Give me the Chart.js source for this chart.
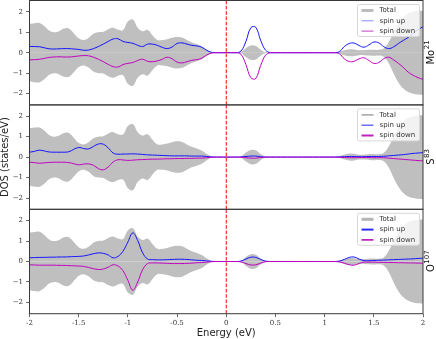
<!DOCTYPE html>
<html><head><meta charset="utf-8">
<script src="https://cdn.jsdelivr.net/npm/chart.js@4.4.0/dist/chart.umd.min.js"></script>
<style>html,body{margin:0;padding:0;background:#fff;}canvas{display:block;}</style>
</head><body>
<canvas id="c" width="436" height="339" style="width:436px;height:339px"></canvas>
<script>
// ---------- data ----------
const energy = [-2,-1.95,-1.9,-1.85,-1.8,-1.75,-1.7,-1.65,-1.6,-1.55,-1.5,-1.45,-1.4,-1.35,-1.3,-1.25,-1.2,-1.15,-1.1,-1.05,-1,-0.95,-0.9,-0.85,-0.8,-0.75,-0.7,-0.65,-0.6,-0.55,-0.5,-0.45,-0.4,-0.35,-0.3,-0.25,-0.2,-0.15,-0.1,-0.05,0,0.05,0.1,0.15,0.2,0.25,0.3,0.35,0.4,0.45,0.5,0.55,0.6,0.65,0.7,0.75,0.8,0.85,0.9,0.95,1,1.05,1.1,1.15,1.2,1.25,1.3,1.35,1.4,1.45,1.5,1.55,1.6,1.65,1.7,1.75,1.8,1.85,1.9,1.95,2];

const totalDOS = [1.40,1.44,1.45,1.30,1.08,1.00,1.05,1.18,1.18,0.95,
  0.70,0.62,0.72,0.92,1.00,1.02,1.15,1.22,1.12,1.10,
  1.52,1.62,1.22,1.05,1.12,0.85,0.62,0.62,0.66,0.73,
  0.77,0.74,0.62,0.50,0.42,0.32,0.16,0.03,0,0,
  0,0,0,0.03,0.22,0.35,0.33,0.15,0.02,0,
  0,0,0,0,0,0,0,0,0,0,
  0,0,0,0.05,0.12,0.17,0.16,0.12,0.12,0.14,
  0.15,0.14,0.20,0.50,1.00,1.45,1.75,1.92,2.00,2.04,2.05];

const moUp = [0.31,0.30,0.29,0.24,0.19,0.18,0.19,0.20,0.20,0.18,
  0.16,0.12,0.13,0.20,0.30,0.42,0.55,0.67,0.68,0.55,
  0.50,0.46,0.36,0.30,0.42,0.42,0.36,0.26,0.20,0.28,
  0.45,0.48,0.42,0.36,0.33,0.27,0.12,0.02,0,0,
  0,0,0,0.08,0.55,1.22,1.24,0.60,0.12,0,
  0,0,0,0,0,0,0,0,0,0,
  0,0,0,0.05,0.30,0.45,0.47,0.35,0.27,0.38,
  0.52,0.48,0.30,0.20,0.28,0.45,0.60,0.75,0.95,1.12,1.27];
const moDown = [-0.35,-0.34,-0.32,-0.28,-0.23,-0.21,-0.20,-0.21,-0.21,-0.19,
  -0.16,-0.14,-0.15,-0.22,-0.32,-0.44,-0.57,-0.68,-0.70,-0.58,
  -0.52,-0.48,-0.38,-0.32,-0.42,-0.44,-0.40,-0.32,-0.22,-0.30,
  -0.46,-0.50,-0.44,-0.37,-0.34,-0.27,-0.12,-0.02,0,0,
  0,0,0,-0.08,-0.58,-1.22,-1.26,-0.62,-0.12,0,
  0,0,0,0,0,0,0,0,0,0,
  0,0,0,-0.05,-0.30,-0.43,-0.42,-0.30,-0.25,-0.38,
  -0.52,-0.48,-0.30,-0.22,-0.35,-0.52,-0.72,-0.95,-1.10,-1.22,-1.30];

const sUp = [0.24,0.28,0.34,0.30,0.25,0.24,0.24,0.24,0.26,0.38,
  0.47,0.42,0.40,0.52,0.64,0.63,0.45,0.20,0.14,0.15,
  0.15,0.16,0.15,0.13,0.11,0.10,0.09,0.08,0.07,0.06,
  0.06,0.06,0.06,0.05,0.05,0.05,0.03,0.01,0,0,
  0,0,0,0.01,0.03,0.05,0.05,0.02,0,0,
  0,0,0,0,0,0,0,0,0,0,
  0,0,0,0.01,0.02,0.03,0.03,0.02,0.02,0.03,
  0.03,0.03,0.04,0.06,0.08,0.10,0.12,0.15,0.18,0.20,0.22];
const sDown = [-0.25,-0.27,-0.30,-0.28,-0.26,-0.25,-0.25,-0.25,-0.27,-0.32,
  -0.38,-0.34,-0.33,-0.40,-0.56,-0.62,-0.48,-0.24,-0.13,-0.14,
  -0.16,-0.15,-0.13,-0.12,-0.11,-0.10,-0.10,-0.09,-0.08,-0.08,
  -0.07,-0.07,-0.06,-0.06,-0.05,-0.05,-0.03,-0.01,0,0,
  0,0,0,-0.01,-0.03,-0.05,-0.05,-0.02,0,0,
  0,0,0,0,0,0,0,0,0,0,
  0,0,0,-0.01,-0.02,-0.03,-0.03,-0.02,-0.02,-0.02,
  -0.03,-0.03,-0.03,-0.05,-0.07,-0.09,-0.11,-0.13,-0.15,-0.17,-0.18];

const oUp = [0.18,0.19,0.20,0.20,0.21,0.21,0.22,0.22,0.23,0.24,
  0.25,0.27,0.32,0.38,0.42,0.40,0.32,0.18,0.25,0.50,
  0.95,1.40,1.02,0.42,0.12,0.09,0.08,0.08,0.09,0.10,
  0.11,0.11,0.10,0.08,0.06,0.05,0.03,0.01,0,0,
  0,0,0,0.02,0.12,0.21,0.20,0.10,0.02,0,
  0,0,0,0,0,0,0,0,0,0,
  0,0,0,0.02,0.10,0.20,0.22,0.12,0.04,0.04,
  0.05,0.06,0.07,0.08,0.09,0.10,0.11,0.12,0.13,0.15,0.16];
const oDown = [-0.16,-0.17,-0.18,-0.18,-0.18,-0.18,-0.19,-0.19,-0.20,-0.21,
  -0.22,-0.24,-0.29,-0.35,-0.39,-0.37,-0.28,-0.16,-0.22,-0.45,
  -0.92,-1.40,-1.00,-0.40,-0.10,-0.07,-0.07,-0.08,-0.09,-0.10,
  -0.10,-0.10,-0.09,-0.08,-0.06,-0.05,-0.03,-0.01,0,0,
  0,0,0,-0.02,-0.10,-0.17,-0.16,-0.08,-0.01,0,
  0,0,0,0,0,0,0,0,0,0,
  0,0,0,-0.02,-0.08,-0.16,-0.18,-0.10,-0.03,-0.03,
  -0.03,-0.04,-0.04,-0.05,-0.05,-0.06,-0.06,-0.07,-0.07,-0.08,-0.08];

const xTicks = [-2,-1.5,-1,-0.5,0,0.5,1,1.5,2];
const xTickLabels = ['-2','-1.5','-1','-0.5','0','0.5','1','1.5','2'];
const yTicks = [-2,-1,0,1,2];
const yTickLabels = ['\u22122','\u22121','0','1','2'];
const yLimits = [-2.55, 2.55];
const fermiLevel = 0;
const seriesNames = ['Total','spin up','spin down'];
const panelElements = ['Mo','S','O'];
const panelCounts = ['21','83','107'];

// ---------- styles ----------
const panelAxes = ['yMo','yS','yO'];
const upSeries = [moUp, sUp, oUp];
const downSeries = [moDown, sDown, oDown];
const legendStyles = [
  [{c:'#bdbdbd',w:3},{c:'#8a8aff',w:1},{c:'#c040c0',w:1}],
  [{c:'#8c8c8c',w:1.2},{c:'#4a4aff',w:1.2},{c:'#c020c0',w:2}],
  [{c:'#b4b4b4',w:3},{c:'#2a2aff',w:2},{c:'#b000b0',w:1.5}]
];
const GRAY = 'rgb(191,191,191)';

const pts = arr => energy.map((e,i)=>({x:e, y:arr[i]}));

const datasets = [];
panelAxes.forEach((ax, k) => {
  datasets.push({data: pts(totalDOS), yAxisID: ax, borderWidth:0, pointRadius:0, fill:'origin', backgroundColor:GRAY, borderColor:GRAY, order:3});
  datasets.push({data: pts(totalDOS.map(v=>-v)), yAxisID: ax, borderWidth:0, pointRadius:0, fill:'origin', backgroundColor:GRAY, borderColor:GRAY, order:3});
  datasets.push({data: pts(upSeries[k]), yAxisID: ax, borderColor:'#1414ff', borderWidth:1, pointRadius:0, fill:false, order:2});
  datasets.push({data: pts(downSeries[k]), yAxisID: ax, borderColor:'#c000c0', borderWidth:1, pointRadius:0, fill:false, order:1});
  datasets.push({data: [{x:fermiLevel,y:yLimits[0]},{x:fermiLevel,y:yLimits[1]}], yAxisID: ax, borderColor:'#ff0000', borderWidth:1, borderDash:[3.7,1.6], pointRadius:0, fill:false, tension:0, order:0});
});

function yAxis(withTitle) {
  return {
    type:'linear', position:'left', stack:'dos', stackWeight:1,
    min:yLimits[0], max:yLimits[1],
    afterBuildTicks: s => { s.ticks = yTicks.map(v=>({value:v})); },
    afterFit: s => { s.width = 29.5; s.paddingTop = 0; s.paddingBottom = 0; },
    ticks:{callback:(v,i)=>yTickLabels[i], font:{family:'DejaVu Serif', size:7}, color:'#333', padding:3, autoSkip:false},
    grid:{drawOnChartArea:false, drawTicks:true, tickLength:3.5, color:'#444', lineWidth:0.8},
    border:{display:false},
    title:{display:withTitle, text:'DOS (states/eV)', font:{family:'DejaVu Sans', size:10, lineHeight:1}, color:'#222', padding:0}
  };
}

const panelPlugin = {
  id:'panels',
  afterDraw(chart) {
    const ctx = chart.ctx;
    const {left, right} = chart.chartArea;
    panelAxes.forEach((ax, k) => {
      const s = chart.scales[ax];
      const top = s.top, bottom = s.bottom;
      ctx.save();
      ctx.strokeStyle = '#3a3a3a';
      ctx.lineWidth = 1;
      ctx.strokeRect(left, top, right-left, bottom-top);
      // legend
      const bw = 62, bh = 32;
      const bx = right - 3.5 - bw, by = top + 4;
      ctx.fillStyle = 'rgba(255,255,255,0.8)';
      ctx.strokeStyle = '#d8d8d8';
      ctx.lineWidth = 1;
      ctx.beginPath();
      if (ctx.roundRect) ctx.roundRect(bx, by, bw, bh, 2); else ctx.rect(bx, by, bw, bh);
      ctx.fill(); ctx.stroke();
      ctx.font = '7px "DejaVu Sans"';
      ctx.textBaseline = 'middle';
      ctx.textAlign = 'left';
      seriesNames.forEach((name, j) => {
        const yy = by + 6 + j*10.3;
        const st = legendStyles[k][j];
        ctx.strokeStyle = st.c; ctx.lineWidth = st.w;
        ctx.beginPath(); ctx.moveTo(bx+4, yy); ctx.lineTo(bx+16, yy); ctx.stroke();
        ctx.fillStyle = '#333';
        ctx.fillText(name, bx+22, yy);
      });
      // right-hand label
      const cy = (top+bottom)/2;
      ctx.translate(right+10.5, cy);
      ctx.rotate(-Math.PI/2);
      ctx.fillStyle = '#111';
      ctx.textBaseline = 'alphabetic';
      ctx.font = '10px "DejaVu Sans"';
      const w1 = ctx.measureText(panelElements[k]).width;
      ctx.font = '7px "DejaVu Sans"';
      const w2 = ctx.measureText(panelCounts[k]).width;
      const x0 = -(w1+w2)/2;
      ctx.font = '10px "DejaVu Sans"';
      ctx.fillText(panelElements[k], x0, 0);
      ctx.font = '7px "DejaVu Sans"';
      ctx.fillText(panelCounts[k], x0 + w1 + 0.5, -4.5);
      ctx.restore();
    });
  }
};

new Chart(document.getElementById('c').getContext('2d'), {
  type:'line',
  data:{datasets},
  plugins:[panelPlugin],
  options:{
    responsive:false, animation:false,
    layout:{padding:{left:0, right:13, top:0.5, bottom:0}},
    plugins:{legend:{display:false}, tooltip:{enabled:false}},
    elements:{line:{tension:0.4}},
    scales:{
      x:{
        type:'linear', position:'bottom', min:-2, max:2,
        afterBuildTicks: s => { s.ticks = xTicks.map(v=>({value:v})); },
        afterFit: s => { s.height = 25.3; s.paddingLeft = 0; s.paddingRight = 0; },
        ticks:{callback:(v,i)=>xTickLabels[i], font:{family:'DejaVu Serif', size:7}, color:'#333', padding:1.5, maxRotation:0, autoSkip:false},
        grid:{drawOnChartArea:false, drawTicks:true, tickLength:3.5, color:'#444', lineWidth:0.8},
        border:{display:false},
        title:{display:true, text:'Energy (eV)', font:{family:'DejaVu Sans', size:10, lineHeight:1.2}, color:'#222', padding:0}
      },
      yO: yAxis(false),
      yS: yAxis(true),
      yMo: yAxis(false)
    }
  }
});
</script>
</body></html>
